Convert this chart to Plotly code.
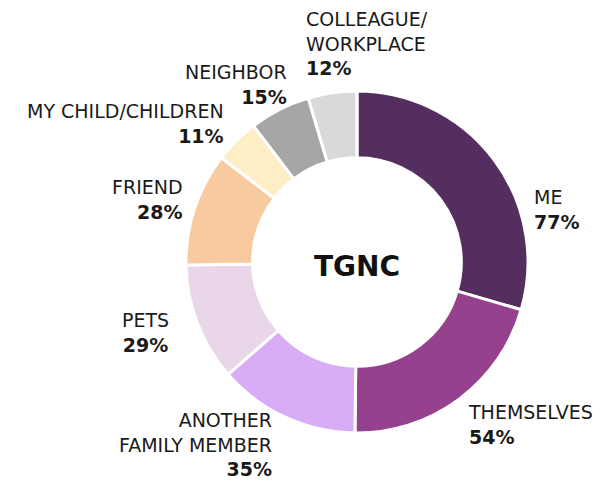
import plotly.graph_objects as go

# ---- data ----
categories = ["ME", "THEMSELVES", "ANOTHER<br>FAMILY MEMBER", "PETS", "FRIEND",
              "MY CHILD/CHILDREN", "NEIGHBOR", "COLLEAGUE/<br>WORKPLACE"]
values = [77, 54, 35, 29, 28, 11, 15, 12]
center_label = "TGNC"

colors = ["#532E5F", "#95418E", "#D9ACF6", "#EAD6E9", "#F7CB9F",
          "#FDEEC6", "#A6A6A6", "#D9D9D9"]

# page body has an 8px margin; lay out in reference pixels and shift
OFF = 8
W, H = 607 - OFF, 480 - OFF

def px_x(x):
    return (x - OFF) / W

def px_y(y):
    return 1 - (y - OFF) / H

# label placement in reference pixels: (x anchor, cap-top y of first line, align)
label_pos = [
    (532, 190, "left"),
    (466, 405, "left"),
    (274, 413, "right"),
    (145, 313, "center"),
    (185, 180, "right"),
    (226, 104, "right"),
    (289, 65, "right"),
    (304, 12, "left"),
]

fig = go.Figure(go.Pie(
    labels=[c.replace("<br>", " ") for c in categories],
    values=values,
    hole=0.61,
    sort=False,
    direction="clockwise",
    rotation=0,
    marker=dict(colors=colors, line=dict(color="white", width=3)),
    textinfo="none",
    hoverinfo="label+value",
    domain=dict(x=[px_x(186), px_x(528)], y=[px_y(433), px_y(91)]),
    showlegend=False,
))

FS = 19
annotations = []
for cat, val, (px, py, al) in zip(categories, values, label_pos):
    annotations.append(dict(
        x=px_x(px), y=px_y(py - 6), xref="paper", yref="paper",
        xanchor=al, yanchor="top", align=al, showarrow=False,
        text=f"{cat}<br><b>{val}%</b>",
        font=dict(family="DejaVu Sans", size=FS, color="#1a1a1a"),
    ))
annotations.append(dict(
    x=px_x(357), y=px_y(266), xref="paper", yref="paper",
    xanchor="center", yanchor="middle", showarrow=False,
    text=f"<b>{center_label}</b>",
    font=dict(family="DejaVu Sans", size=28, color="#111111"),
))

fig.update_layout(
    width=W, height=H,
    margin=dict(l=0, r=0, t=0, b=0),
    paper_bgcolor="white", plot_bgcolor="white",
    annotations=annotations,
)

fig.write_html("out.html")
